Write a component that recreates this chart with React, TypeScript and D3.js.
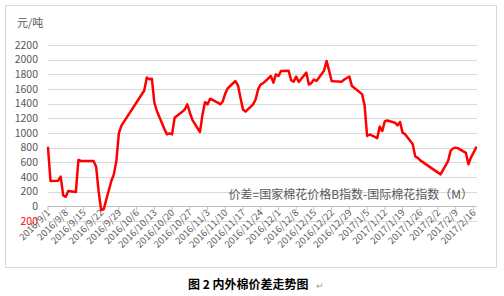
import React from "react";
import * as d3 from "d3";

const dates: string[] = [
  "2016-09-01","2016-09-02","2016-09-05","2016-09-06","2016-09-07","2016-09-08","2016-09-09",
  "2016-09-12","2016-09-13","2016-09-14","2016-09-19","2016-09-20","2016-09-21","2016-09-22","2016-09-23",
  "2016-09-26","2016-09-27","2016-09-28","2016-09-29","2016-09-30","2016-10-09","2016-10-10","2016-10-11",
  "2016-10-12","2016-10-13","2016-10-14","2016-10-17","2016-10-18","2016-10-19","2016-10-20","2016-10-21",
  "2016-10-24","2016-10-25","2016-10-26","2016-10-27","2016-10-28","2016-10-31","2016-11-01","2016-11-02",
  "2016-11-03","2016-11-04","2016-11-07","2016-11-08","2016-11-09","2016-11-10","2016-11-11","2016-11-14",
  "2016-11-15","2016-11-16","2016-11-17","2016-11-18","2016-11-21","2016-11-22","2016-11-23","2016-11-24",
  "2016-11-25","2016-11-28","2016-11-29","2016-11-30","2016-12-01","2016-12-02","2016-12-05","2016-12-06",
  "2016-12-07","2016-12-08","2016-12-09","2016-12-12","2016-12-13","2016-12-14","2016-12-15","2016-12-16",
  "2016-12-19","2016-12-20","2016-12-21","2016-12-22","2016-12-23","2016-12-26","2016-12-27","2016-12-28",
  "2016-12-29","2016-12-30","2017-01-03","2017-01-04","2017-01-05","2017-01-06","2017-01-09","2017-01-10",
  "2017-01-11","2017-01-12","2017-01-13","2017-01-16","2017-01-17","2017-01-18","2017-01-19","2017-01-20",
  "2017-01-23","2017-01-24","2017-01-25","2017-01-26","2017-02-03","2017-02-06","2017-02-07","2017-02-08",
  "2017-02-09","2017-02-10","2017-02-13","2017-02-14","2017-02-15","2017-02-16","2017-02-17"
];

const spread: number[] = [
  800,345,350,405,150,130,209,
  195,632,618,618,540,200,-50,-40,
  345,436,620,1000,1100,1580,1755,1732,
  1741,1414,1300,1050,982,995,982,1209,
  1290,1320,1391,1280,1180,1014,1250,1420,
  1391,1468,1414,1391,1430,1540,1610,1709,
  1650,1480,1320,1291,1390,1460,1600,1664,
  1680,1777,1687,1800,1777,1846,1850,1720,
  1700,1770,1696,1823,1660,1680,1730,1709,
  1850,1982,1850,1709,1705,1700,1730,1750,
  1769,1640,1530,1380,959,980,930,1087,
  1027,1160,1170,1140,1105,1150,1005,982,
  850,680,660,627,436,620,760,790,
  800,790,730,573,664,730,800
];

const yTicks: number[] = [-200,0,200,400,600,800,1000,1200,1400,1600,1800,2000,2200];

const xTickLabels: string[] = [
  "2016/9/1","2016/9/8","2016/9/15","2016/9/22","2016/9/29","2016/10/6","2016/10/13",
  "2016/10/20","2016/10/27","2016/11/3","2016/11/10","2016/11/17","2016/11/24","2016/12/1",
  "2016/12/8","2016/12/15","2016/12/22","2016/12/29","2017/1/5","2017/1/12","2017/1/19",
  "2017/1/26","2017/2/2","2017/2/9","2017/2/16"
];

const unitLabel = "元/吨";
const noteLabel = "价差=国家棉花价格B指数-国际棉花指数（M）";
const captionLabel = "图 2 内外棉价差走势图";

const parse = d3.timeParse("%Y-%m-%d");
const parseTick = d3.timeParse("%Y/%m/%d");

export default function App() {
  const W = 504, H = 296;
  const x = d3.scaleTime()
    .domain([parse("2016-09-01")!, parse("2017-02-17")!])
    .range([48, 476]);
  const y = d3.scaleLinear().domain([-200, 2200]).range([221, 45]);

  const pts = dates.map((d, i) => ({ d: parse(d)!, v: spread[i] }));
  const line = d3.line<{ d: Date; v: number }>()
    .x(p => x(p.d))
    .y(p => y(p.v))
    .curve(d3.curveLinear);

  const font = "'Noto Sans CJK SC', 'Noto Sans', sans-serif";
  const grey = "#595959";
  const y0 = y(0);

  return (
    <svg width={W} height={H} style={{ position: "absolute", left: 0, top: 0, background: "#fff" }}
      fontFamily={font}>
      <rect x={0} y={0} width={W} height={H} fill="#fff" />
      <rect x={5.5} y={5.5} width={491} height={262} fill="none" stroke="#d9d9d9" strokeWidth={1} />
      <text x={17} y={27} fontSize={11} fill={grey}>{unitLabel}</text>
      {yTicks.map(t => (
        <g key={t}>
          <line x1={48} x2={477} y1={Math.round(y(t)) + 0.5} y2={Math.round(y(t)) + 0.5}
            stroke="#d9d9d9" strokeWidth={1} />
          <text x={38} y={y(t)} dy="0.35em" textAnchor="end" fontSize={10.5}
            fill={t < 0 ? "#ff0000" : grey}>{Math.abs(t)}</text>
        </g>
      ))}
      <line x1={48} x2={477} y1={Math.round(y0) + 0.5} y2={Math.round(y0) + 0.5} stroke="#bfbfbf" />
      {xTickLabels.map(lbl => {
        const tx = x(parseTick(lbl)!);
        return (
          <g key={lbl}>
            <line x1={tx} x2={tx} y1={y0} y2={y0 + 4} stroke="#bfbfbf" />
            <text transform={`translate(${tx + 3},${y0 + 7}) rotate(-45)`} textAnchor="end"
              fontSize={9.5} fill={grey}>{lbl}</text>
          </g>
        );
      })}
      <path d={line(pts) || ""} fill="none" stroke="#ff0000" strokeWidth={2.5}
        strokeLinejoin="round" strokeLinecap="round" />
      <text x={473} y={199} textAnchor="end" fontSize={12} fill={grey}>{noteLabel}</text>
      <text x={188} y={289} fontSize={12} fontWeight="bold" fill="#000">{captionLabel}</text>
      <text x={316} y={289} fontSize={9} fill="#999">↵</text>
    </svg>
  );
}
